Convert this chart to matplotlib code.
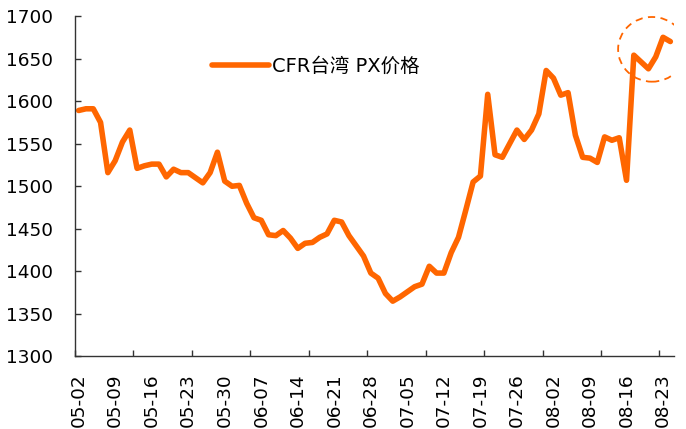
import matplotlib
matplotlib.use('Agg')
import matplotlib.pyplot as plt
from matplotlib.patches import Ellipse
import numpy as np

# CFR Taiwan PX price, one value per trading day
px_price = [1589, 1591, 1591, 1575, 1516, 1530, 1552, 1566, 1521, 1524,
            1526, 1526, 1511, 1520, 1516, 1516, 1510, 1504, 1516, 1540,
            1506, 1500, 1501, 1480, 1463, 1460, 1443, 1442, 1448, 1439,
            1427, 1433, 1434, 1440, 1444, 1460, 1458, 1442, 1430, 1418,
            1398, 1392, 1374, 1365, 1370, 1376, 1382, 1385, 1406, 1398,
            1398, 1422, 1440, 1472, 1505, 1512, 1608, 1537, 1534, 1550,
            1566, 1555, 1566, 1585, 1636, 1627, 1607, 1610, 1560, 1534,
            1533, 1528, 1558, 1554, 1557, 1507, 1654, 1646, 1638, 1652,
            1675, 1670]
date_labels = ['05-02', '05-09', '05-16', '05-23', '05-30', '06-07', '06-14',
               '06-21', '06-28', '07-05', '07-12', '07-19', '07-26', '08-02',
               '08-09', '08-16', '08-23']
label_step = 5
tick_step = 8
legend_name = 'CFR台湾 PX价格'

orange = '#FF6600'
plt.rcParams['font.family'] = ['DejaVu Sans', 'Noto Sans CJK SC']

fig = plt.figure(figsize=(6.86, 4.29), dpi=100)
ax = fig.add_axes([0.1093, 0.169, 0.8732, 0.7937])

x = np.arange(len(px_price))
ax.plot(x, px_price, color=orange, lw=4, solid_joinstyle='round',
        solid_capstyle='round', label=legend_name)

# dashed circle round the latest points
last = slice(len(px_price) - 6, len(px_price))
cx = x[last].mean()
cy = np.mean(px_price[last]) + 5
ax.add_patch(Ellipse((cx, cy), 9.3, 76, fill=False, edgecolor=orange,
                     lw=1.3, linestyle=(0, (4, 3))))

ax.set_xlim(-0.5, len(px_price) - 0.5)
ax.set_ylim(1300, 1700)
ax.set_yticks(np.arange(1300, 1701, 50))

ax.set_xticks(np.arange(0, len(date_labels) * label_step, label_step))
ax.set_xticklabels(date_labels, rotation=90, va='top', ha='center')
ax.set_xticks(np.arange(-0.5, len(px_price), tick_step), minor=True)
ax.tick_params(axis='x', which='major', length=0, pad=12, labelsize=13.3)
ax.tick_params(axis='x', which='minor', length=4, direction='in',
               color='#333333', width=1)
ax.tick_params(axis='y', direction='in', length=4, pad=16, labelsize=13.3,
               color='#333333', width=1)

for s in ['top', 'right']:
    ax.spines[s].set_visible(False)
for s in ['left', 'bottom']:
    ax.spines[s].set_color('#333333')
    ax.spines[s].set_linewidth(1)

ax.legend(loc='center left', bbox_to_anchor=(0.229, 0.853), frameon=False,
          fontsize=14, handlelength=2.9, handletextpad=0.2, borderpad=0,
          borderaxespad=0)

fig.savefig('out.png', dpi=100)
